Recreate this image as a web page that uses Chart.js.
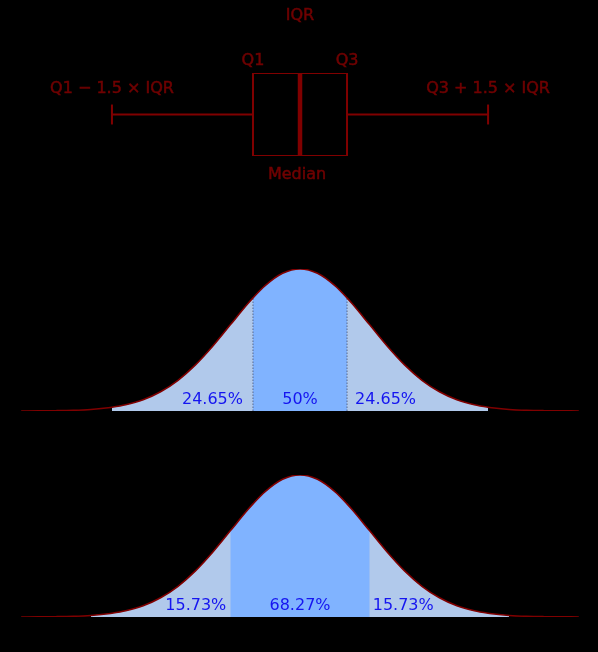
<!DOCTYPE html>
<html>
<head>
<meta charset="utf-8">
<script src="https://cdn.jsdelivr.net/npm/chart.js@4"></script>
<style>
  html, body { margin: 0; padding: 0; background: #000; }
  body { width: 598px; height: 652px; position: relative; overflow: hidden; }
  canvas { position: absolute; left: 0; }
  #boxChart { top: 0; }
  #iqrChart { top: 250px; }
  #sigmaChart { top: 456px; }
</style>
</head>
<body>
<canvas id="boxChart" width="598" height="200"></canvas>
<canvas id="iqrChart" width="598" height="170"></canvas>
<canvas id="sigmaChart" width="598" height="170"></canvas>
<script>
// Box plot positions, in standard deviations
const quartiles = [-2.698, -0.6745, 0, 0.6745, 2.698];
const boxLabels = ['Q1 \u2212 1.5 \u00d7 IQR', 'Q1', 'Median', 'Q3', 'Q3 + 1.5 \u00d7 IQR'];

// Density curve
const sigmaX = [-4, -3.75, -3.5, -3.25, -3, -2.75, -2.698, -2.5, -2.25, -2, -1.75, -1.5, -1.25, -1, -0.75, -0.6745, -0.5, -0.25,
                0, 0.25, 0.5, 0.6745, 0.75, 1, 1.25, 1.5, 1.75, 2, 2.25, 2.5, 2.698, 2.75, 3, 3.25, 3.5, 3.75, 4];
const density = [0.0001, 0.0004, 0.0009, 0.0020, 0.0044, 0.0091, 0.0104, 0.0175, 0.0317, 0.0540, 0.0863, 0.1295, 0.1826, 0.2420, 0.3011, 0.3178, 0.3521, 0.3867,
                 0.3989, 0.3867, 0.3521, 0.3178, 0.3011, 0.2420, 0.1826, 0.1295, 0.0863, 0.0540, 0.0317, 0.0175, 0.0104, 0.0091, 0.0044, 0.0020, 0.0009, 0.0004, 0.0001];

// Shaded areas and their percentages
const iqrBands = [-2.698, -0.6745, 0.6745, 2.698];
const iqrShares = ['24.65%', '50%', '24.65%'];
const sigmaBands = [-3, -1, 1, 3];
const sigmaShares = ['15.73%', '68.27%', '15.73%'];

const xMin = -4.304, xMax = 4.275;
const RED = '#800000';
const TEXT_RED = '#700000';
const LIGHT = '#b1c9eb';
const DARK = '#80b3ff';
const LABEL_BLUE = '#1515f0';
const FONT = '"DejaVu Sans", sans-serif';

Chart.defaults.animation = false;
Chart.defaults.responsive = false;
Chart.defaults.plugins.legend.display = false;
Chart.defaults.plugins.tooltip.enabled = false;

function points(lo, hi) {
    const out = [];
    sigmaX.forEach((x, i) => {
        if (x >= lo - 1e-9 && x <= hi + 1e-9) out.push({ x: x, y: density[i] });
    });
    return out;
}

function densityAt(x) {
    return density[sigmaX.indexOf(x)];
}

function seg(data, width) {
    return {
        data: data,
        borderColor: RED,
        borderWidth: width,
        pointRadius: 0,
        tension: 0,
        fill: false
    };
}

const hiddenScales = (yMin, yMax) => ({
    x: { type: 'linear', min: xMin, max: xMax, display: false },
    y: { type: 'linear', min: yMin, max: yMax, display: false }
});

// ---- Box plot ----
const capH = 0.24;
new Chart(document.getElementById('boxChart'), {
    type: 'line',
    data: {
        datasets: [
            seg([{ x: quartiles[0], y: 0 }, { x: quartiles[1], y: 0 }], 2),
            seg([{ x: quartiles[3], y: 0 }, { x: quartiles[4], y: 0 }], 2),
            seg([{ x: quartiles[0], y: -capH }, { x: quartiles[0], y: capH }], 2),
            seg([{ x: quartiles[4], y: -capH }, { x: quartiles[4], y: capH }], 2),
            seg([
                { x: quartiles[1], y: -1 }, { x: quartiles[3], y: -1 },
                { x: quartiles[3], y: 1 }, { x: quartiles[1], y: 1 }, { x: quartiles[1], y: -1 }
            ], 2),
            seg([{ x: quartiles[2], y: -1 }, { x: quartiles[2], y: 1 }], 4.5)
        ]
    },
    options: {
        layout: { padding: { top: 73, bottom: 44, left: 0, right: 0 } },
        scales: hiddenScales(-1, 1)
    },
    plugins: [{
        id: 'boxText',
        afterDatasetsDraw(chart) {
            const ctx = chart.ctx;
            const xs = chart.scales.x;
            const area = chart.chartArea;
            const put = (text, x, y) => {
                ctx.fillText(text, x, y);
                ctx.strokeText(text, x, y);
            };
            ctx.save();
            ctx.fillStyle = TEXT_RED;
            ctx.strokeStyle = TEXT_RED;
            ctx.lineWidth = 0.5;
            ctx.font = '16px ' + FONT;
            ctx.textAlign = 'center';
            ctx.textBaseline = 'middle';
            put('IQR', xs.getPixelForValue(quartiles[2]), area.top - 57);
            put(boxLabels[1], xs.getPixelForValue(quartiles[1]), area.top - 12);
            put(boxLabels[3], xs.getPixelForValue(quartiles[3]), area.top - 12);
            put(boxLabels[0], xs.getPixelForValue(quartiles[0]), area.top + 16);
            put(boxLabels[4], xs.getPixelForValue(quartiles[4]), area.top + 16);
            put(boxLabels[2], xs.getPixelForValue(quartiles[2]) - 3, area.bottom + 19);
            ctx.restore();
        }
    }]
});

// ---- Density panels ----
function densityChart(id, bands, shares, dotted) {
    const datasets = [
        { data: points(bands[0], bands[3]), borderWidth: 0, pointRadius: 0, cubicInterpolationMode: 'monotone',
          backgroundColor: LIGHT, fill: 'origin', order: 3 },
        { data: points(bands[1], bands[2]), borderWidth: 0, pointRadius: 0, cubicInterpolationMode: 'monotone',
          backgroundColor: DARK, fill: 'origin', order: 2 },
        { data: points(sigmaX[0], sigmaX[sigmaX.length - 1]), borderColor: RED, borderWidth: 1.6, pointRadius: 0,
          cubicInterpolationMode: 'monotone', fill: false, order: 0 }
    ];
    if (dotted) {
        [bands[1], bands[2]].forEach(b => {
            datasets.push({ data: [{ x: b, y: 0 }, { x: b, y: densityAt(b) }], borderColor: '#56688f',
                borderWidth: 1, borderDash: [1.5, 1.5], pointRadius: 0, fill: false, order: 1 });
        });
    }
    new Chart(document.getElementById(id), {
        type: 'line',
        data: { datasets: datasets },
        options: {
            layout: { padding: { top: 19, bottom: 9, left: 0, right: 0 } },
            scales: hiddenScales(0, 0.3989)
        },
        plugins: [{
            id: 'shares',
            afterDatasetsDraw(chart) {
                const ctx = chart.ctx;
                const xs = chart.scales.x;
                const base = chart.scales.y.getPixelForValue(0) - 7;
                ctx.save();
                ctx.fillStyle = LABEL_BLUE;
                ctx.font = '16px ' + FONT;
                ctx.textBaseline = 'alphabetic';
                const gapL = dotted ? 10 : 4;
                const gapR = dotted ? 8 : 3;
                ctx.textAlign = 'right';
                ctx.fillText(shares[0], xs.getPixelForValue(bands[1]) - gapL, base);
                ctx.textAlign = 'center';
                ctx.fillText(shares[1], xs.getPixelForValue(0), base);
                ctx.textAlign = 'left';
                ctx.fillText(shares[2], xs.getPixelForValue(bands[2]) + gapR, base);
                ctx.restore();
            }
        }]
    });
}

densityChart('iqrChart', iqrBands, iqrShares, true);
densityChart('sigmaChart', sigmaBands, sigmaShares, false);
</script>
</body>
</html>
